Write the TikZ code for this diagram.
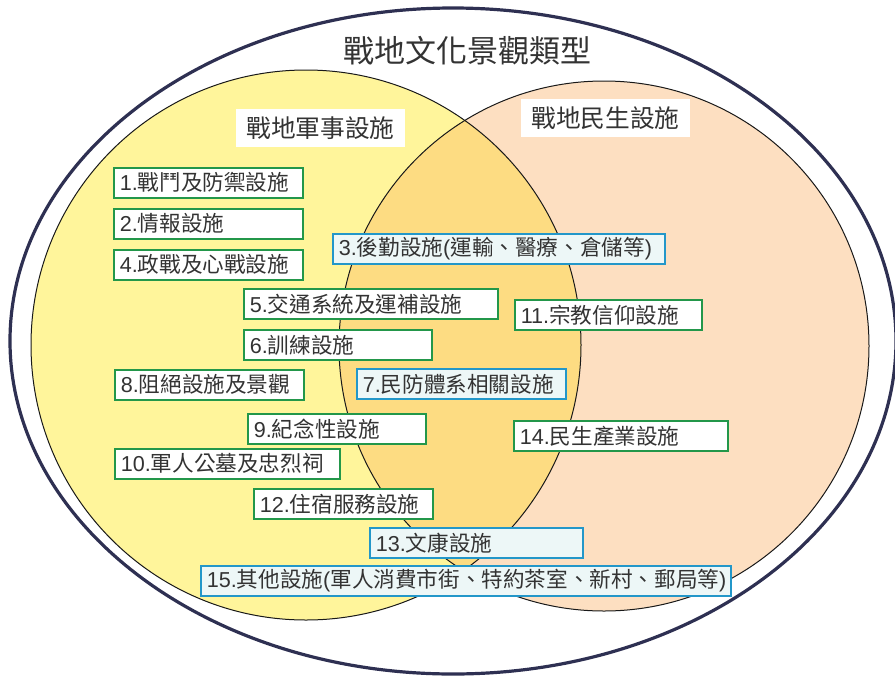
\documentclass[tikz,border=0pt]{standalone}
\usepackage{fontspec}
\setmainfont{Noto Sans CJK TC}
\newfontfamily\latf{Liberation Sans}
\newcommand{\numt}[1]{{\latf #1}}
\definecolor{outerc}{HTML}{2E3052}
\definecolor{yelc}{HTML}{FFF59B}
\definecolor{peachc}{HTML}{FDDFC1}
\definecolor{overc}{HTML}{FDDC82}
\definecolor{greenc}{HTML}{23974A}
\definecolor{bluec}{HTML}{2397C9}
\definecolor{bluefill}{HTML}{EDF7F7}
\definecolor{txtc}{HTML}{333333}
\tikzset{
  gbox/.style={draw=greenc, fill=white, line width=1.6pt, inner xsep=6pt, inner ysep=0pt,
    minimum height=30pt, align=left, anchor=north west, font=\fontsize{21.6}{23}\selectfont, text=txtc},
  bbox/.style={gbox, draw=bluec, fill=bluefill},
  headbox/.style={fill=white, inner sep=0pt, font=\fontsize{24.7}{26}\selectfont, text=txtc},
}
\begin{document}
\begin{tikzpicture}[x=1pt,y=-1pt]
\useasboundingbox (0,0) rectangle (895,678);
% circles
\fill[yelc] (306,345) circle (275);
\fill[peachc] (604,346) circle (265);
\begin{scope}
  \clip (306,345) circle (275);
  \fill[overc] (604,346) circle (265);
\end{scope}
\draw[line width=1pt, black!90] (306,345) circle (275);
\draw[line width=1pt, black!90] (604,346) circle (265);
\draw[outerc, line width=3.2pt] (453,341) ellipse (443 and 333);
% title
\node[font=\fontsize{31}{33}\selectfont, text=txtc] (title) at (467,51) {戰地文化景觀類型};
\node[headbox, minimum width=169pt, minimum height=38pt] (mil) at (320.5,128) {戰地軍事設施};
\node[headbox, minimum width=169pt, minimum height=38pt] (civ) at (605.5,118) {戰地民生設施};
% boxes
\node[gbox, text width=177pt] (b1) at (113,167) {\numt{1.}戰鬥及防禦設施};
\node[gbox, text width=177pt] (b2) at (113,208) {\numt{2.}情報設施};
\node[gbox, text width=177pt] (b4) at (113,249) {\numt{4.}政戰及心戰設施};
\node[bbox, text width=320pt] (b3) at (332,233) {\numt{3.}後勤設施\numt{(}運輸、醫療、倉儲等\numt{)}};
\node[gbox, text width=242pt] (b5) at (243,288) {\numt{5.}交通系統及運補設施};
\node[gbox, text width=176pt] (b6) at (243,329) {\numt{6.}訓練設施};
\node[gbox, text width=175pt] (b11) at (514,299) {\numt{11.}宗教信仰設施};
\node[bbox, text width=197pt] (b7) at (356,368) {\numt{7.}民防體系相關設施};
\node[gbox, text width=177pt] (b8) at (114,369) {\numt{8.}阻絕設施及景觀};
\node[gbox, text width=166pt] (b9) at (247,413) {\numt{9.}紀念性設施};
\node[gbox, text width=202pt] (b14) at (513,420) {\numt{14.}民生產業設施};
\node[gbox, text width=213pt] (b10) at (114,448) {\numt{10.}軍人公墓及忠烈祠};
\node[gbox, text width=167pt] (b12) at (253,488) {\numt{12.}住宿服務設施};
\node[bbox, text width=201pt] (b13) at (369,527) {\numt{13.}文康設施};
\node[bbox, text width=518pt] (b15) at (200,565) {\numt{15.}其他設施\numt{(}軍人消費市街、特約茶室、新村、郵局等\numt{)}};
\end{tikzpicture}
\end{document}
